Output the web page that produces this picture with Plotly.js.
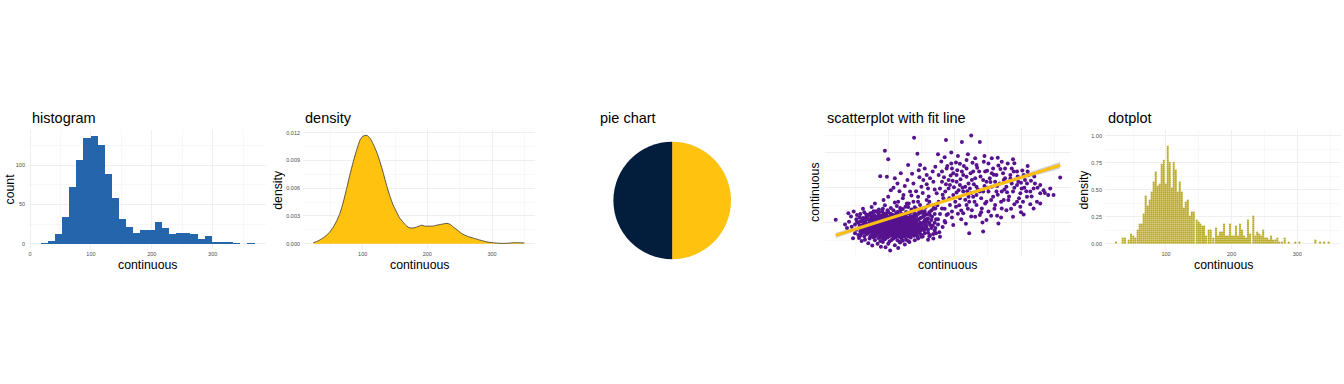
<!DOCTYPE html>
<html><head><meta charset="utf-8">
<script src="https://cdn.plot.ly/plotly-3.0.1.min.js"></script>
<style>html,body{margin:0;padding:0;background:#fff}#chart{width:1344px;height:384px}</style>
</head><body><div id="chart"></div>
<script>
// ---------- data ----------
const panel_titles = ['histogram', 'density', 'pie chart', 'scatterplot with fit line', 'dotplot'];
const x_title = 'continuous';
const hist_y_title = 'count';
const dens_y_title = 'density';
const scatter_y_title = 'continuous';

// histogram (bin centres, counts)
const hist_x = [23.3, 35.0, 46.7, 58.4, 70.1, 81.9, 93.6, 105.3, 117.0, 128.7, 140.4, 152.1, 163.8, 175.5, 187.2,
                198.9, 210.7, 222.4, 234.1, 245.8, 257.5, 269.2, 280.9, 292.6, 304.3, 316.0, 327.7, 339.5, 351.2, 362.9];
const hist_count = [1, 3, 12, 34, 72, 106, 134, 137, 125, 89, 58, 32, 21, 14, 18,
                    17, 28, 20, 12, 14, 14, 13, 6, 10, 2, 2, 2, 1, 0, 1];

// density curve
const dens_x = [23.7, 31, 39.2, 47, 54.6, 60, 64.9, 70, 75.3, 80, 85.6, 91, 95.9, 100, 103.6, 107, 111.4, 116, 121.7, 127,
                132, 137, 142.3, 147, 152.6, 157, 162.9, 168, 173.2, 178, 183.5, 187, 191.3, 196, 201.6, 208, 214.5, 222,
                230, 235, 240.3, 246, 253.2, 262, 271.2, 281, 291.8, 302, 312.4, 322, 333, 342, 350];
const dens_y = [0.0001, 0.0003, 0.00065, 0.0011, 0.0018, 0.0025, 0.0033, 0.0045, 0.006, 0.0074, 0.0089, 0.0102, 0.0112,
                0.0116, 0.0117, 0.0117, 0.0114, 0.0108, 0.0099, 0.0088, 0.0076, 0.0063, 0.0051, 0.0042, 0.0034, 0.0028,
                0.0023, 0.0019, 0.0017, 0.0017, 0.0018, 0.0019, 0.0020, 0.0019, 0.0019, 0.0019, 0.0020, 0.0021, 0.0022,
                0.0021, 0.0018, 0.0015, 0.0011, 0.0008, 0.0006, 0.0004, 0.0002, 0.0001, 0.00004, 0.00004, 0.0001, 0.0001, 0.00008];

// pie (right half gold, left half navy)
const pie_labels = ['a', 'b'];
const pie_values = [50, 50];
const pie_colors = ['#FEC20F', '#021E3C'];

// scatter points [x, y]
const scatter_pts = [
 [103,21],[89,32],[76,35],[118,44],[96,30],[110,36],[84,40],[125,38],[70,42],[100,40],[132,45],[92,45],[60,48],[140,50],[115,28],
 [65,52],[72,55],[80,50],[88,48],[95,53],[102,47],[108,55],[114,50],[120,56],[127,52],[134,58],[145,55],[150,60],[78,58],[85,57],
 [99,58],[111,59],[122,49],[56,57],[160,52],[92,55],[105,51],[117,46],[130,48],
 [55,65],[60,70],[64,62],[68,68],[71,73],[74,64],[77,70],[80,62],[83,67],[86,72],[89,63],[91,69],[94,74],[97,61],[100,66],[102,71],
 [105,63],[107,68],[110,73],[113,62],[115,67],[118,72],[121,64],[124,69],[127,74],[130,61],[133,66],[136,71],[139,63],[142,68],[146,73],
 [150,65],[155,70],[162,62],[168,68],[66,74],[79,75],[93,60],[108,61],[125,60],[138,74],[152,61],[88,70],[99,73],[116,70],
 [52,80],[58,85],[62,78],[65,88],[68,82],[70,77],[72,86],[74,80],[76,89],[78,76],[80,84],[82,79],[84,88],[86,77],[88,83],[90,87],
 [92,78],[94,82],[96,86],[98,76],[100,81],[102,89],[104,78],[106,84],[108,88],[110,77],[112,82],[114,86],[116,79],[118,84],[120,89],
 [122,76],[124,81],[126,86],[128,79],[130,84],[132,88],[134,77],[136,82],[138,87],[140,79],[143,84],[146,89],[149,78],[152,83],[156,87],
 [160,80],[165,85],[170,78],[63,83],[71,89],[79,81],[87,85],[95,79],[103,83],[111,87],[119,80],[127,83],[135,85],[144,80],[90,80],
 [106,79],[115,83],[123,87],[99,85],[83,83],[75,84],[131,80],[139,83],[107,86],
 [50,95],[55,100],[60,92],[63,98],[66,103],[69,94],[72,99],[75,104],[77,91],[80,96],[82,101],[85,93],[87,98],[89,103],[92,91],[94,96],
 [96,101],[98,94],[100,99],[102,104],[104,92],[106,97],[108,102],[110,95],[112,100],[114,105],[116,93],[118,98],[120,103],[122,91],
 [124,96],[126,101],[128,94],[130,99],[133,104],[136,92],[139,97],[142,102],[145,95],[148,100],[151,91],[155,97],[159,103],[163,94],
 [58,104],[71,92],[83,97],[97,90],[109,91],[121,95],[134,97],[147,93],[91,99],[103,96],[115,97],[127,98],[79,100],[140,91],[67,97],
 [111,103],[99,102],[86,90],[123,104],
 [52,110],[57,115],[61,108],[65,113],[68,118],[72,107],[75,112],[78,117],[81,109],[84,114],[87,119],[90,106],[93,111],[96,116],[99,108],
 [102,113],[105,118],[108,107],[111,112],[114,117],[117,109],[120,114],[123,119],[126,106],[129,111],[132,116],[135,108],[138,113],
 [142,118],[146,110],[150,115],[155,107],[160,112],[166,117],[172,110],[74,119],[89,113],[101,110],[113,106],[125,112],[137,118],
 [94,107],[107,115],[119,108],[82,105],
 [58,125],[64,130],[70,122],[76,128],[82,133],[88,121],[94,126],[100,131],[106,123],[112,128],[118,134],[124,121],[130,127],[136,132],
 [142,124],[148,129],[155,122],[162,130],[170,125],[91,133],[103,120],[115,124],[127,131],[85,127],[139,121],[97,123],
 [62,140],[75,145],[86,138],[95,150],[104,142],[113,148],[122,139],[131,155],[140,144],[150,137],[160,150],[168,140],[110,158],[80,155],
 [145,160],[99,136],[126,146],[156,143],
 [73,60],[81,65],[87,59],[95,66],[101,62],[109,65],[117,60],[123,66],[131,63],[137,67],[144,62],
 [69,71],[76,67],[84,71],[90,66],[96,71],[104,69],[111,70],[119,67],[126,71],[134,69],[141,72],[148,69],
 [67,79],[73,76],[81,87],[85,80],[91,84],[97,80],[101,87],[105,81],[109,84],[113,79],[117,87],[121,82],[125,78],[129,87],[133,82],
 [137,79],[141,86],[147,83],[154,79],[158,84],
 [61,89],[68,90],[74,94],[78,98],[81,92],[84,100],[88,94],[93,101],[95,93],[99,97],[101,92],[105,100],[107,94],[111,98],[113,93],
 [117,101],[119,95],[123,99],[125,93],[129,102],[131,96],[135,100],[137,94],[141,99],[144,92],[149,97],[153,101],[157,94],
 [64,106],[70,110],[76,108],[80,114],[85,110],[88,116],[91,109],[95,113],[98,118],[100,106],[104,111],[106,116],[110,109],[112,114],
 [116,112],[118,117],[122,110],[124,115],[128,108],[131,113],[134,118],[137,110],[140,115],[144,108],[148,113],[153,118],[157,110],
 [67,124],[73,127],[79,122],[86,130],[92,123],[98,128],[104,126],[109,121],[114,131],[120,126],[126,124],[133,128],[139,130],[145,125],
 [152,128],[158,124],[78,133],[92,140],[108,136],[118,142],[135,138],[147,133],[165,135],
 [57,92],[53,103],[59,81],[62,114],[64,72],[58,63],[150,87],[157,90],[162,100],[167,92],[171,85],[175,110],[165,108],[160,72],[172,70],
 [78,72],[82,74],[86,68],[90,73],[94,69],[98,70],[103,74],[106,72],[112,75],[116,74],[120,70],[124,73],[128,67],[132,72],[140,76],
 [77,83],[81,78],[85,85],[89,78],[93,87],[97,83],[101,78],[103,86],[107,77],[111,80],[115,88],[119,86],[123,78],[127,88],[131,86],
 [135,89],[139,78],[142,81],
 [76,95],[79,93],[83,104],[87,92],[91,95],[95,104],[97,98],[103,101],[105,95],[109,105],[113,97],[117,91],[121,100],[125,105],[129,90],
 [133,93],[137,103],[143,96],
 [79,107],[83,117],[87,111],[91,116],[95,120],[99,114],[103,107],[107,119],[111,116],[115,110],[119,119],[123,113],[127,117],[131,107],
 [135,115],[139,109],
 [21,109],[47,56],[40,127],[41,103],[45,89],[53,122],[58,75],[35,95],[44,118],[38,85],[50,70],[48,132],
 [163,65],[177,73],[175,95],[182,88],[170,100],[178,60],[185,105],[168,55],
 [139,342],[95,305],[144,297],[100,281],[88,233],[98,231],[119,241],[108,200],[104,193],[114,212],[129,222],[138,212],[148,265],[146,250],
 [155,255],[158,236],[153,222],[163,227],[150,203],[160,198],[168,217],[173,184],[145,174],[133,189],[123,179],[115,160],[138,160],
 [148,151],[158,165],[168,151],[128,155],[93,165],[100,174],[110,227],[130,265],[171,260],[167,246],[176,236],[181,217],[178,198],
 [176,160],[155,132],[163,122],[171,141],
 [122,170],[135,178],[142,190],[152,185],[161,175],[170,195],[158,210],[147,230],[136,240],[125,205],[117,190],[130,145],[142,140],
 [162,160],[174,150],
 [185,287],[187,336],[211,330],[225,349],[238,330],[195,269],[202,272],[208,268],[218,255],[227,271],[244,274],[237,246],[231,227],
 [213,236],[198,241],[191,222],[203,217],[221,212],[233,203],[248,217],[258,255],[266,263],[263,236],[273,241],[280,269],[288,281],
 [294,246],[302,249],[311,236],[319,198],[329,184],[341,179],[359,229],[314,153],[290,153],[304,124],[264,120],[242,101],[222,70],
 [217,97],[210,110],[186,101],[188,122],[205,126],[226,136],[233,151],[248,160],[258,174],[271,189],[278,203],[286,212],[296,217],
 [306,222],[288,189],[299,184],[281,165],[271,141],[251,132],[238,122],[218,151],[208,170],[198,179],[193,151],[191,198],[213,189],
 [228,174],[243,189],[256,203],[268,212],[276,227],[253,227],[238,189],[223,198],[206,193],[196,132],[213,127],[231,117],[248,108],
 [261,151],[278,136],[294,160],[309,174],[324,160],[334,193],[321,212],[301,198],[286,255],[276,255],[256,241],[246,246],[228,246],
 [218,279],[211,246],[233,265],[251,269],[271,274],[188,255],[181,246],[186,189],[183,170],[181,141],[202,146],[222,160],[241,141],
 [263,189],[274,165],[299,146],[288,117],[266,98],[243,75],[198,94],[309,212],[314,189],[329,208],[349,179],[344,198],[304,236],
 [284,236],[251,189],[221,174],[201,160],[193,208],[208,208],[226,222],[243,222],[261,217],[233,179],[216,203],[203,236],[196,255],
 [218,231],[231,284],[256,284],[294,208],[319,141],[329,155],
 [184,230],[189,262],[194,235],[199,201],[204,250],[209,224],[214,262],[219,190],[224,241],[229,210],[234,257],[239,232],[245,205],
 [249,248],[254,216],[259,237],[264,205],[269,253],[274,222],[279,187],[284,226],[289,246],[295,232],[300,214],[305,200],[310,246],
 [315,220],[320,232],
 [182,180],[187,210],[192,170],[197,220],[203,186],[207,150],[212,200],[216,166],[220,140],[225,185],[230,160],[235,195],[240,170],
 [246,155],[250,200],[255,165],[260,140],[265,180],[270,160],[275,195],[282,175],[290,200],[297,170],[303,160],[308,190],[316,175],
 [325,200],[336,185],
 [185,140],[190,125],[196,115],[210,135],[225,118],[240,130],[255,120],[270,115],[285,140],[300,130],[178,125],[195,300],[205,290],
 [220,295],[245,290],[265,285],[290,270],[310,262],[180,275],[175,295]
];
// fitted line and its confidence band
const fit_x  = [21, 80, 140, 190, 250, 300, 359];
const fit_y  = [64, 100, 135, 165, 200, 230, 264];
const fit_lo = [57, 95, 132, 162.5, 196, 224, 255];
const fit_hi = [71, 105, 138, 167.5, 204, 236, 273];

// dotplot: stack positions and number of dots in each stack
const dot_x = [23.9, 34.1, 37.6, 43.2, 46.8, 50.3, 53.4,
  56.9, 60.0, 63.0, 66.1, 69.1, 72.2, 75.2, 78.3, 81.3, 84.4, 87.4, 90.5, 93.5, 96.6, 99.6, 102.7, 105.7, 108.8, 111.8,
  114.9, 117.9, 121.0, 124.0, 127.1, 130.1, 133.2, 136.2, 139.3, 142.3,
  146.8, 149.8, 152.3, 155.4, 157.9, 161.0, 165.0, 168.1, 172.1, 176.2, 179.2, 182.3, 185.3, 188.4, 191.4, 194.5, 197.5,
  200.6, 203.6, 206.6, 209.7, 212.7, 215.8, 218.8, 221.9, 224.9, 228.0, 233.0, 236.0, 239.0, 242.0, 245.0, 248.0, 251.0,
  254.0, 257.0, 260.0, 263.0, 266.5, 269.6, 272.6, 276.7, 280.8, 286.9, 297.0, 303.1, 327.5, 334.6, 340.7, 347.8];
const dot_n = [1, 3, 3, 2, 5, 4, 3,
  7, 10, 10, 15, 24, 19, 22, 26, 31, 36, 29, 30, 40, 42, 30, 49, 41, 28, 41, 37, 26, 31, 26, 18, 21, 22, 14, 16, 16,
  12, 11, 10, 9, 9, 4, 7, 7, 3, 8, 4, 6, 6, 10, 4, 4, 10, 4, 4, 9, 4, 10, 7, 4, 3, 12, 5, 14, 4, 6, 5, 4, 7, 3, 3, 2, 4,
  2, 2, 3, 1, 1, 3, 1, 1, 1, 2, 1, 1, 1];
const DOT_STEP = 0.0185;

// ---------- build ----------
const W = 1344, H = 384;
const fx = p => p / W, fy = p => 1 - p / H;
const FONT = 'Liberation Sans, Arial, sans-serif';
const GRID = '#EBEBEB', MINOR = '#F1F1F1', TICKC = '#4D4D4D';

const dotX = [], dotY = [];
dot_x.forEach((x, k) => { for (let i = 0; i < dot_n[k]; i++) { dotX.push(x); dotY.push((i + 0.5) * DOT_STEP); } });

const traces = [
  {type: 'bar', x: hist_x, y: hist_count, width: 11.71, xaxis: 'x', yaxis: 'y',
   marker: {color: '#2465AB', line: {width: 0}}, hoverinfo: 'none'},
  {type: 'scatter', mode: 'lines', x: dens_x, y: dens_y, xaxis: 'x2', yaxis: 'y2', fill: 'tozeroy',
   fillcolor: '#FEC20F', line: {color: '#333333', width: 0.8, shape: 'spline', smoothing: 0.6}, hoverinfo: 'none'},
  {type: 'pie', labels: pie_labels, values: pie_values, sort: false, direction: 'clockwise', rotation: 0,
   marker: {colors: pie_colors, line: {width: 0}}, textinfo: 'none', hoverinfo: 'none',
   domain: {x: [fx(612.7), fx(731.7)], y: [fy(259.3), fy(141.7)]}},
  {type: 'scatter', mode: 'markers', x: scatter_pts.map(p => p[0]), y: scatter_pts.map(p => p[1]), xaxis: 'x3', yaxis: 'y3',
   marker: {color: '#56128F', size: 4, line: {width: 0}}, hoverinfo: 'none'},
  {type: 'scatter', mode: 'lines', x: fit_x.concat(fit_x.slice().reverse()), y: fit_hi.concat(fit_lo.slice().reverse()),
   xaxis: 'x3', yaxis: 'y3', fill: 'toself', fillcolor: 'rgba(150,150,150,0.45)', line: {width: 0}, hoverinfo: 'none'},
  {type: 'scatter', mode: 'lines', x: fit_x, y: fit_y, xaxis: 'x3', yaxis: 'y3',
   line: {color: '#FDBE10', width: 3}, hoverinfo: 'none'},
  {type: 'scatter', mode: 'markers', x: dotX, y: dotY, xaxis: 'x4', yaxis: 'y4',
   marker: {color: '#BBAD2C', size: 2.3, line: {width: 0}}, hoverinfo: 'none'}
];

function ax(domainPx, range, dtick, minorDtick, opts) {
  return Object.assign({
    domain: [fx(domainPx[0]), fx(domainPx[1])], range: range, tick0: 0, dtick: dtick,
    showgrid: true, gridcolor: GRID, gridwidth: 0.8, zeroline: false, showline: false, ticks: '',
    tickfont: {family: FONT, size: 5.5, color: TICKC}, fixedrange: true,
    minor: {dtick: minorDtick, tick0: 0, showgrid: true, gridcolor: MINOR, gridwidth: 0.5}
  }, opts || {});
}
function ay(domainPx, range, dtick, minorDtick, opts) {
  return Object.assign({
    domain: [fy(domainPx[1]), fy(domainPx[0])], range: range, tick0: 0, dtick: dtick,
    showgrid: true, gridcolor: GRID, gridwidth: 0.8, zeroline: false, showline: false, ticks: '',
    tickfont: {family: FONT, size: 5.5, color: TICKC}, fixedrange: true, ticklabelstandoff: 2,
    minor: {dtick: minorDtick, tick0: 0, showgrid: true, gridcolor: MINOR, gridwidth: 0.5}
  }, opts || {});
}

const layout = {
  width: W, height: H, margin: {l: 0, r: 0, t: 0, b: 0}, paper_bgcolor: '#fff', plot_bgcolor: '#fff',
  showlegend: false, bargap: 0,
  xaxis:  ax([28, 266], [-3.3, 387.5], 100, 50, {anchor: 'y'}),
  yaxis:  ay([130, 249], [-6.7, 144.5], 50, 25, {anchor: 'x'}),
  xaxis2: ax([303, 535], [7.7, 366.5], 100, 50, {anchor: 'y2'}),
  yaxis2: ay([130, 249], [-0.000573, 0.012292], 0.003, 0.0015, {anchor: 'x2', tickformat: '.3f'}),
  xaxis3: ax([824.5, 1071], [4.07, 375.3], 100, 50, {anchor: 'y3', showticklabels: false}),
  yaxis3: ay([129.2, 256.5], [4, 366.7], 100, 50, {anchor: 'x3', showticklabels: false}),
  xaxis4: ax([1105, 1341], [7.16, 366.5], 100, 50, {anchor: 'y4'}),
  yaxis4: ay([130.3, 249.1], [-0.05, 1.05], 0.25, 0.125, {anchor: 'x4', tickformat: '.2f'}),
  annotations: []
};

function txt(text, xPx, yPx, size, opts) {
  layout.annotations.push(Object.assign({
    text: text, xref: 'paper', yref: 'paper', x: fx(xPx), y: fy(yPx), showarrow: false,
    xanchor: 'left', yanchor: 'middle', font: {family: FONT, size: size, color: '#000'}
  }, opts || {}));
}
// panel titles
txt(panel_titles[0], 30, 118, 14.5);
txt(panel_titles[1], 302.7, 118, 14.5);
txt(panel_titles[2], 597.7, 118, 14.5);
txt(panel_titles[3], 825, 118, 14.5);
txt(panel_titles[4], 1106, 118, 14.5);
// x axis titles
[147, 419, 947.8, 1223].forEach(c => txt(x_title, c, 265, 12.3, {xanchor: 'center'}));
// y axis titles
txt(hist_y_title, 10, 189.5, 12.3, {xanchor: 'center', textangle: -90});
txt(dens_y_title, 278.3, 189.5, 12.3, {xanchor: 'center', textangle: -90});
txt(scatter_y_title, 815, 192.9, 12.3, {xanchor: 'center', textangle: -90});
txt(dens_y_title, 1084, 189.5, 12.3, {xanchor: 'center', textangle: -90});

Plotly.newPlot('chart', traces, layout, {staticPlot: true, displayModeBar: false});
</script></body></html>
